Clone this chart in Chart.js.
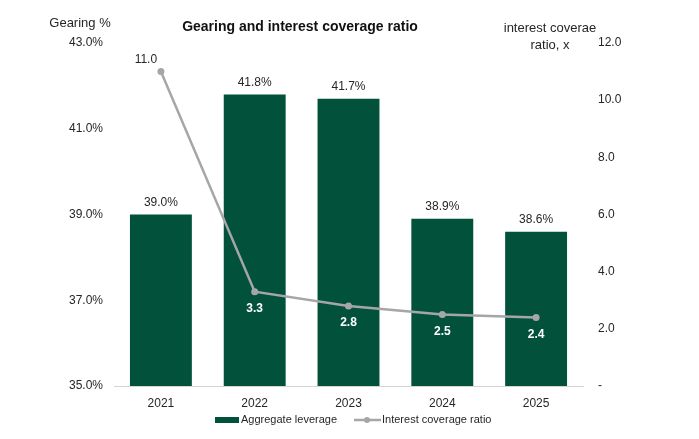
<!DOCTYPE html>
<html>
<head>
<meta charset="utf-8">
<script src="https://cdn.jsdelivr.net/npm/chart.js@4/dist/chart.umd.min.js"></script>
<style>
  html, body { margin: 0; padding: 0; background: #fff; }
  #wrap { width: 699px; height: 439px; }
</style>
</head>
<body>
<div id="wrap"><canvas id="chart" width="699" height="439"></canvas></div>
<script>
const years = ['2021', '2022', '2023', '2024', '2025'];
const leverage = [39.0, 41.8, 41.7, 38.9, 38.6];
const coverage = [11.0, 3.3, 2.8, 2.5, 2.4];
const gearingTicks = [35, 37, 39, 41, 43];
const coverageTicks = [0, 2, 4, 6, 8, 10, 12];

const GREEN = '#02523b';
const GREY = '#a6a6a6';
const TEXT = '#262626';
const FONT = '"Liberation Sans", Arial, sans-serif';

// labels, titles and legend drawn on top of the chart
const annotate = {
  id: 'annotate',
  afterDatasetsDraw(chart) {
    const { ctx } = chart;
    const lineIdx = 0, barIdx = 1;
    ctx.save();
    ctx.textAlign = 'center';
    ctx.textBaseline = 'middle';

    chart.getDatasetMeta(barIdx).data.forEach((bar, i) => {
      ctx.font = `12px ${FONT}`;
      ctx.fillStyle = TEXT;
      ctx.fillText(leverage[i].toFixed(1) + '%', bar.x, bar.y - 12);
    });

    chart.getDatasetMeta(lineIdx).data.forEach((pt, i) => {
      if (i === 0) {
        ctx.font = `12px ${FONT}`;
        ctx.fillStyle = TEXT;
        ctx.fillText(coverage[i].toFixed(1), pt.x - 15, pt.y - 12);
      } else {
        ctx.font = `bold 12px ${FONT}`;
        ctx.fillStyle = '#ffffff';
        ctx.fillText(coverage[i].toFixed(1), pt.x, pt.y + 17);
      }
    });

    // title and axis titles
    ctx.font = `bold 14px ${FONT}`;
    ctx.fillStyle = '#111';
    ctx.fillText('Gearing and interest coverage ratio', 300, 27);

    ctx.font = `13px ${FONT}`;
    ctx.fillStyle = TEXT;
    ctx.fillText('Gearing %', 80, 23);
    ctx.fillText('interest coverae', 550, 28);
    ctx.fillText('ratio, x', 550, 45);

    // legend
    const ly = 420;
    ctx.fillStyle = GREEN;
    ctx.fillRect(215, ly - 3, 24, 6);
    ctx.textAlign = 'left';
    ctx.font = `11px ${FONT}`;
    ctx.fillStyle = TEXT;
    ctx.fillText(chart.data.datasets[barIdx].label, 241, ly);

    ctx.strokeStyle = GREY;
    ctx.lineWidth = 2.5;
    ctx.beginPath();
    ctx.moveTo(354, ly);
    ctx.lineTo(381, ly);
    ctx.stroke();
    ctx.fillStyle = GREY;
    ctx.beginPath();
    ctx.arc(367, ly, 3, 0, Math.PI * 2);
    ctx.fill();
    ctx.fillStyle = TEXT;
    ctx.fillText(chart.data.datasets[lineIdx].label, 382, ly);
    ctx.restore();
  }
};

new Chart(document.getElementById('chart'), {
  data: {
    labels: years,
    datasets: [
      {
        type: 'line',
        label: 'Interest coverage ratio',
        data: coverage,
        yAxisID: 'y2',
        borderColor: GREY,
        backgroundColor: GREY,
        borderWidth: 2.5,
        pointRadius: 3.5,
        pointBackgroundColor: GREY,
        pointBorderWidth: 0,
        tension: 0,
        order: 0
      },
      {
        type: 'bar',
        label: 'Aggregate leverage',
        data: leverage,
        yAxisID: 'y',
        backgroundColor: GREEN,
        barPercentage: 0.66,
        categoryPercentage: 1,
        order: 1
      }
    ]
  },
  options: {
    responsive: false,
    animation: false,
    layout: { padding: { top: 43, left: 0, right: 0, bottom: 0 } },
    plugins: { legend: { display: false }, tooltip: { enabled: false } },
    scales: {
      x: {
        grid: { display: false },
        border: { display: true, color: '#d4d4d4', width: 1 },
        ticks: { color: TEXT, font: { family: FONT, size: 12 }, padding: 2 },
        afterFit(scale) { scale.height = 53; }
      },
      y: {
        position: 'left',
        min: 35, max: 43,
        grid: { display: false },
        border: { display: false },
        afterBuildTicks(scale) { scale.ticks = gearingTicks.map(v => ({ value: v })); },
        ticks: {
          color: TEXT, font: { family: FONT, size: 12 }, padding: 3,
          callback: v => v.toFixed(1) + '%'
        },
        afterFit(scale) { scale.width = 114; }
      },
      y2: {
        position: 'right',
        min: 0, max: 12,
        grid: { display: false },
        border: { display: false },
        afterBuildTicks(scale) { scale.ticks = coverageTicks.map(v => ({ value: v })); },
        ticks: {
          color: TEXT, font: { family: FONT, size: 12 }, padding: 7,
          callback: v => v === 0 ? '-' : v.toFixed(1)
        },
        afterFit(scale) { scale.width = 116; }
      }
    }
  },
  plugins: [annotate]
});
</script>
</body>
</html>
